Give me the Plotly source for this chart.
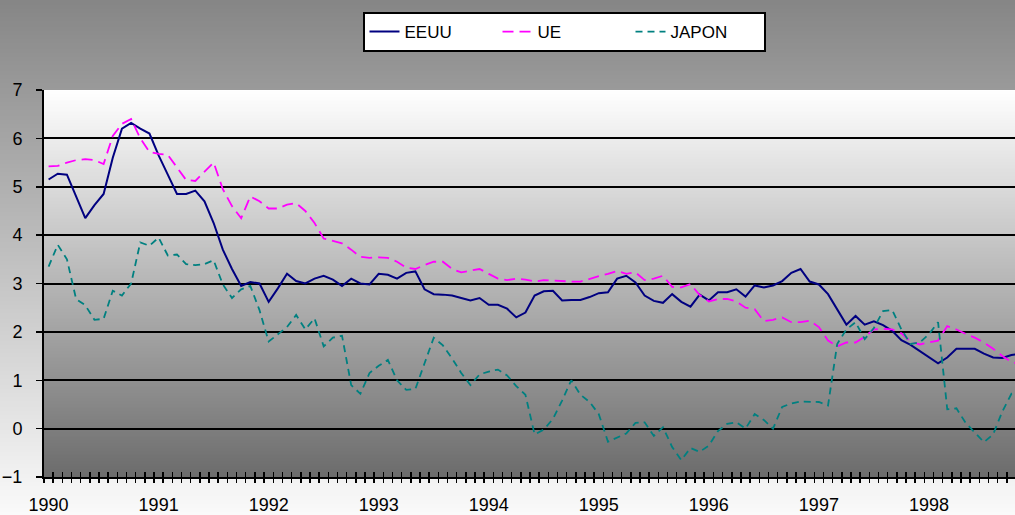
import zlib, struct, base64
import plotly.graph_objects as go

# ---------------- data (monthly, Jan 1990 onward) ----------------
years = ["1990", "1991", "1992", "1993", "1994", "1995", "1996", "1997", "1998"]

eeuu = [5.15, 5.27, 5.25, 4.80, 4.35, 4.62, 4.85, 5.60, 6.20, 6.32, 6.20, 6.10,
        5.65, 5.25, 4.85, 4.85, 4.92, 4.70, 4.25, 3.70, 3.30, 2.95, 3.03, 3.00,
        2.62, 2.90, 3.20, 3.05, 3.00, 3.10, 3.16, 3.08, 2.95, 3.10, 3.00, 2.98,
        3.20, 3.18, 3.10, 3.22, 3.25, 2.88, 2.78, 2.77, 2.75, 2.70, 2.65, 2.70,
        2.56, 2.56, 2.48, 2.30, 2.40, 2.75, 2.84, 2.85, 2.65, 2.66, 2.66, 2.72,
        2.80, 2.82, 3.10, 3.16, 3.02, 2.75, 2.64, 2.60, 2.78, 2.62, 2.52, 2.77,
        2.65, 2.82, 2.82, 2.88, 2.73, 2.96, 2.92, 2.96, 3.05, 3.22, 3.30, 3.04,
        2.98, 2.78, 2.47, 2.15, 2.33, 2.15, 2.22, 2.14, 2.02, 1.83, 1.73, 1.60,
        1.48, 1.35, 1.47, 1.65, 1.65, 1.65, 1.55, 1.47, 1.46, 1.52, 1.55]

ue = [5.42, 5.43, 5.50, 5.55, 5.57, 5.55, 5.47, 6.05, 6.30, 6.40, 6.00, 5.72,
      5.68, 5.66, 5.40, 5.14, 5.12, 5.32, 5.50, 4.95, 4.60, 4.35, 4.80, 4.70,
      4.55, 4.55, 4.63, 4.66, 4.50, 4.25, 3.93, 3.88, 3.83, 3.70, 3.55, 3.53,
      3.54, 3.53, 3.45, 3.33, 3.30, 3.38, 3.45, 3.45, 3.30, 3.23, 3.26, 3.30,
      3.20, 3.10, 3.07, 3.10, 3.08, 3.04, 3.07, 3.06, 3.04, 3.04, 3.04, 3.10,
      3.15, 3.20, 3.26, 3.20, 3.23, 3.07, 3.10, 3.16, 2.93, 2.92, 2.99, 2.76,
      2.63, 2.68, 2.68, 2.63, 2.50, 2.47, 2.22, 2.25, 2.30, 2.20, 2.20, 2.23,
      2.10, 1.82, 1.70, 1.78, 1.78, 1.90, 2.05, 2.06, 2.05, 1.97, 1.80, 1.74,
      1.78, 1.82, 2.12, 2.05, 1.96, 1.88, 1.78, 1.65, 1.50, 1.38, 1.33]

japon = [3.35, 3.80, 3.50, 2.68, 2.55, 2.25, 2.27, 2.85, 2.75, 3.00, 3.85, 3.78,
         3.95, 3.58, 3.60, 3.40, 3.38, 3.40, 3.48, 2.98, 2.70, 2.88, 2.95, 2.45,
         1.80, 1.96, 2.10, 2.35, 2.05, 2.28, 1.70, 1.88, 1.92, 0.90, 0.72, 1.15,
         1.30, 1.42, 1.00, 0.80, 0.82, 1.35, 1.88, 1.72, 1.45, 1.15, 0.90, 1.12,
         1.18, 1.22, 1.10, 0.88, 0.70, -0.12, -0.02, 0.20, 0.58, 1.00, 0.70, 0.55,
         0.30, -0.27, -0.18, -0.10, 0.12, 0.13, -0.15, 0.03, -0.38, -0.65, -0.40, -0.48,
         -0.35, -0.05, 0.10, 0.13, 0.00, 0.30, 0.18, 0.00, 0.45, 0.52, 0.56, 0.56,
         0.55, 0.48, 1.75, 2.05, 2.20, 1.85, 2.08, 2.43, 2.45, 2.05, 1.75, 1.78,
         1.95, 2.20, 0.40, 0.42, 0.12, -0.08, -0.28, -0.12, 0.35, 0.72, 0.62]

months = list(range(len(eeuu)))
y_ticks = [-1, 0, 1, 2, 3, 4, 5, 6, 7]
grid_vals = [0, 1, 2, 3, 4, 5, 6]

# ---------------- gradient images ----------------
def gradient_png(top, bottom, h=256):
    raw = b""
    for r in range(h):
        t = r / (h - 1)
        g = int(round(top + (bottom - top) * t))
        raw += b"\x00" + bytes([g, g, g]) * 2

    def chunk(tag, data):
        return (struct.pack(">I", len(data)) + tag + data +
                struct.pack(">I", zlib.crc32(tag + data) & 0xFFFFFFFF))

    ihdr = struct.pack(">IIBBBBB", 2, h, 8, 2, 0, 0, 0)
    png = (b"\x89PNG\r\n\x1a\n" + chunk(b"IHDR", ihdr) +
           chunk(b"IDAT", zlib.compress(raw)) + chunk(b"IEND", b""))
    return "data:image/png;base64," + base64.b64encode(png).decode()

W, H = 1015, 515
ML, MR, MT, MB = 44, 0, 90, 38
PW, PH = W - ML - MR, H - MT - MB

FONT = "Arial, Liberation Sans, sans-serif"

fig = go.Figure()
fig.add_trace(go.Scatter(x=months, y=eeuu, name="EEUU", mode="lines",
                         line=dict(color="#000080", width=2)))
fig.add_trace(go.Scatter(x=months, y=ue, name="UE", mode="lines",
                         line=dict(color="#ff00ff", width=1.8, dash="11px,6px")))
fig.add_trace(go.Scatter(x=months, y=japon, name="JAPON", mode="lines",
                         line=dict(color="#008080", width=1.8, dash="7px,5px")))
# helper (empty) traces so that the overlay axes are drawn
fig.add_trace(go.Scatter(x=[], y=[], xaxis="x2", yaxis="y", showlegend=False, hoverinfo="skip"))
fig.add_trace(go.Scatter(x=[], y=[], xaxis="x3", yaxis="y", showlegend=False, hoverinfo="skip"))
fig.add_trace(go.Scatter(x=[], y=[], xaxis="x", yaxis="y2", showlegend=False, hoverinfo="skip"))

xr = [-0.5, -0.5 + PW / 9.17]
boundaries = [m - 0.5 for m in range(len(eeuu) + 1)]
year_pos = [12 * k for k in range(len(years))]

fig.update_layout(
    width=W, height=H,
    margin=dict(l=ML, r=MR, t=MT, b=MB, pad=0),
    paper_bgcolor="#b0b0b0",
    plot_bgcolor="rgba(0,0,0,0)",
    font=dict(family=FONT, size=18, color="black"),
    hovermode=False,
    showlegend=True,
    legend=dict(orientation="h", x=(564 - ML) / PW, xanchor="center",
                y=1 + (MT - 12) / PH, yanchor="top",
                bgcolor="white", bordercolor="black", borderwidth=2,
                font=dict(family=FONT, size=17, color="black"),
                entrywidth=88, itemwidth=30),
    xaxis=dict(range=xr, tickmode="array", tickvals=year_pos, ticktext=years,
               ticks="", showgrid=False, zeroline=False,
               showline=True, linecolor="black", linewidth=2,
               ticklabelstandoff=10, tickfont=dict(size=18)),
    xaxis2=dict(overlaying="x", range=xr, tickmode="array", tickvals=boundaries,
                ticks="outside", ticklen=5, tickwidth=1.5, tickcolor="black",
                showticklabels=False, showgrid=False, zeroline=False, showline=False),
    xaxis3=dict(overlaying="x", range=xr, tickmode="array", tickvals=boundaries,
                ticks="inside", ticklen=5, tickwidth=1.5, tickcolor="black",
                showticklabels=False, showgrid=False, zeroline=False, showline=False),
    yaxis=dict(range=[-1, 7], tickmode="array", tickvals=y_ticks,
               ticks="outside", ticklen=6, tickwidth=1.5, tickcolor="black",
               showgrid=False, zeroline=False,
               showline=True, linecolor="black", linewidth=2,
               ticklabelstandoff=10, tickfont=dict(size=18)),
    yaxis2=dict(overlaying="y", range=[-1, 7], tickmode="array", tickvals=grid_vals,
                showgrid=True, gridcolor="black", gridwidth=2,
                showticklabels=False, ticks="", zeroline=False, showline=False),
    images=[
        dict(source=gradient_png(0x86, 0xfa), xref="paper", yref="paper",
             x=-ML / PW, y=1 + MT / PH, sizex=W / PW, sizey=H / PH,
             xanchor="left", yanchor="top", sizing="stretch", layer="below"),
        dict(source=gradient_png(0xff, 0x6c), xref="paper", yref="paper",
             x=0, y=1, sizex=1, sizey=1,
             xanchor="left", yanchor="top", sizing="stretch", layer="below"),
    ],
)

fig.write_html("out.html",
               config={"displayModeBar": False, "staticPlot": True},
               post_script="document.body.style.margin='0';document.body.style.overflow='hidden';")
